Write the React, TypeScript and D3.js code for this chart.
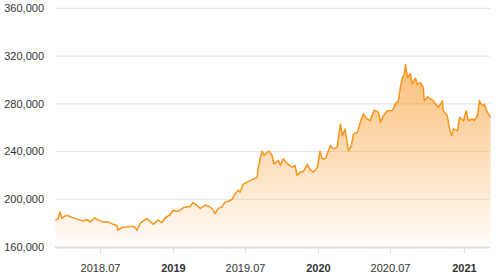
import React from "react";
import * as d3 from "d3";

const dates: string[] = [
  "2018-03-10","2018-03-17","2018-03-22","2018-03-27","2018-04-04","2018-04-11","2018-04-16","2018-04-29",
  "2018-05-12","2018-05-19","2018-05-29","2018-06-06","2018-06-18","2018-06-26","2018-07-09","2018-07-21",
  "2018-08-03","2018-08-13","2018-08-15","2018-08-25","2018-09-07","2018-09-20","2018-09-27","2018-10-02",
  "2018-10-10","2018-10-17","2018-10-27","2018-11-01","2018-11-12","2018-11-24","2018-12-04","2018-12-12",
  "2018-12-24","2019-01-01","2019-01-11","2019-01-19","2019-01-26","2019-02-05","2019-02-13","2019-02-20",
  "2019-03-02","2019-03-10","2019-03-23","2019-03-30","2019-04-09","2019-04-17","2019-04-24","2019-05-04",
  "2019-05-12","2019-05-20","2019-05-30","2019-06-06","2019-06-14","2019-06-19","2019-06-26","2019-07-06",
  "2019-07-19","2019-08-01","2019-08-03","2019-08-08","2019-08-13","2019-08-18","2019-08-26","2019-08-31",
  "2019-09-07","2019-09-12","2019-09-23","2019-09-28","2019-10-05","2019-10-10","2019-10-18","2019-10-28",
  "2019-11-04","2019-11-09","2019-11-17","2019-11-25","2019-12-05","2019-12-12","2019-12-20","2019-12-30",
  "2020-01-06","2020-01-11","2020-01-19","2020-01-24","2020-02-01","2020-02-08","2020-02-18","2020-02-26",
  "2020-03-02","2020-03-09","2020-03-17","2020-03-25","2020-03-30","2020-04-09","2020-04-16","2020-04-24",
  "2020-05-04","2020-05-11","2020-05-21","2020-06-01","2020-06-06","2020-06-13","2020-06-23","2020-07-06",
  "2020-07-13","2020-07-21","2020-07-26","2020-07-31","2020-08-05","2020-08-08","2020-08-13","2020-08-20",
  "2020-08-25","2020-09-02","2020-09-07","2020-09-14","2020-09-22","2020-09-24","2020-10-02","2020-10-15",
  "2020-10-22","2020-10-30","2020-11-09","2020-11-11","2020-11-21","2020-11-26","2020-12-02","2020-12-07",
  "2020-12-17","2020-12-22","2021-01-01","2021-01-08","2021-01-13","2021-01-23","2021-01-28","2021-02-05",
  "2021-02-10","2021-02-18","2021-02-23","2021-02-28","2021-03-05","2021-03-10"
];

const values: number[] = [
  183100,183000,189400,184000,186000,186500,185500,184000,
  182500,181700,183000,181000,184500,182500,181000,181000,
  179000,177800,174000,176400,176700,177500,176400,174000,
  179700,181700,183700,182500,179000,182500,180500,184500,
  187000,190800,190000,190800,192800,193600,194000,197200,
  195000,192200,195000,194400,192200,188000,192200,193600,
  197800,198300,200000,204700,207500,206000,212500,214400,
  216400,218600,225600,233900,240300,236700,239400,240300,
  236700,229700,232500,228300,233900,231900,229200,227000,
  228300,220000,222800,223300,229200,224700,222800,226400,
  240300,233900,234000,238000,245000,242200,243600,263000,
  253300,258900,240800,245000,254700,256000,264400,271400,
  267200,265800,274700,272800,264400,270000,274200,274200,
  279700,282500,293600,301900,304700,313000,301900,305300,
  296400,301400,296400,297800,293600,282500,285800,283000,
  280300,276900,282500,274200,270000,260300,253300,259000,
  257500,268600,265800,274200,265800,267200,266000,270000,
  282500,278300,279700,274200,271400,268600
];

const yTicks: number[] = [160000, 200000, 240000, 280000, 320000, 360000];
const xTickDates: string[] = ["2018-07-01", "2019-01-01", "2019-07-01", "2020-01-01", "2020-07-01", "2021-01-01"];
const xTickLabels: string[] = ["2018.07", "2019", "2019.07", "2020", "2020.07", "2021"];

export default function App() {
  const W = 500, H = 278;
  const left = 55, right = 490, top = 8.3, bottom = 247;
  const parse = d3.timeParse("%Y-%m-%d");
  const data = dates.map((d, i) => ({ date: parse(d) as Date, value: values[i] }));
  const x = d3.scaleTime()
    .domain([parse(xTickDates[0]) as Date, parse(xTickDates[5]) as Date])
    .range([100, 463.5]);
  const y = d3.scaleLinear().domain([160000, 360000]).range([bottom, top]);
  const line = d3.line<{ date: Date; value: number }>()
    .x(d => x(d.date)).y(d => y(d.value)).curve(d3.curveLinear);
  const area = d3.area<{ date: Date; value: number }>()
    .x(d => x(d.date)).y0(bottom).y1(d => y(d.value));
  const fmt = d3.format(",");
  const yMax = y(d3.max(values) as number);

  return (
    <svg width={W} height={H} style={{ position: "absolute", left: 0, top: 0 }}
      fontFamily="'Liberation Sans', Arial, sans-serif">
      <defs>
        <linearGradient id="fillGrad" x1="0" y1={yMax} x2="0" y2={bottom} gradientUnits="userSpaceOnUse">
          <stop offset="0" stopColor="#f9951f" stopOpacity={0.6} />
          <stop offset="0.5" stopColor="#f9951f" stopOpacity={0.32} />
          <stop offset="1" stopColor="#f9951f" stopOpacity={0.02} />
        </linearGradient>
      </defs>
      {yTicks.map(t => (
        <g key={t}>
          {t !== 160000 && (
            <line x1={left} x2={right} y1={y(t)} y2={y(t)} stroke="#e5e5e5" strokeWidth={1.2} />
          )}
          <text x={44} y={y(t)} dy="0.34em" textAnchor="end" fontSize={11} fill="#333">{fmt(t)}</text>
        </g>
      ))}
      <path d={area(data) || ""} fill="url(#fillGrad)" />
      <path d={line(data) || ""} fill="none" stroke="#f9931c" strokeWidth={1.5} strokeLinejoin="round" />
      <line x1={left} x2={right} y1={bottom + 0.5} y2={bottom + 0.5} stroke="#dcdcdc" strokeWidth={2} />
      {xTickDates.map((d, i) => {
        const xx = Math.round(x(parse(d) as Date)) + 0.5;
        const bold = !xTickLabels[i].includes(".");
        return (
          <g key={d}>
            <line x1={xx} x2={xx} y1={bottom + 1} y2={bottom + 6} stroke="#dcdcdc" strokeWidth={1} />
            <text x={xx} y={271.5} textAnchor="middle" fontSize={11}
              fontWeight={bold ? "bold" : "normal"} fill="#333">{xTickLabels[i]}</text>
          </g>
        );
      })}
    </svg>
  );
}
